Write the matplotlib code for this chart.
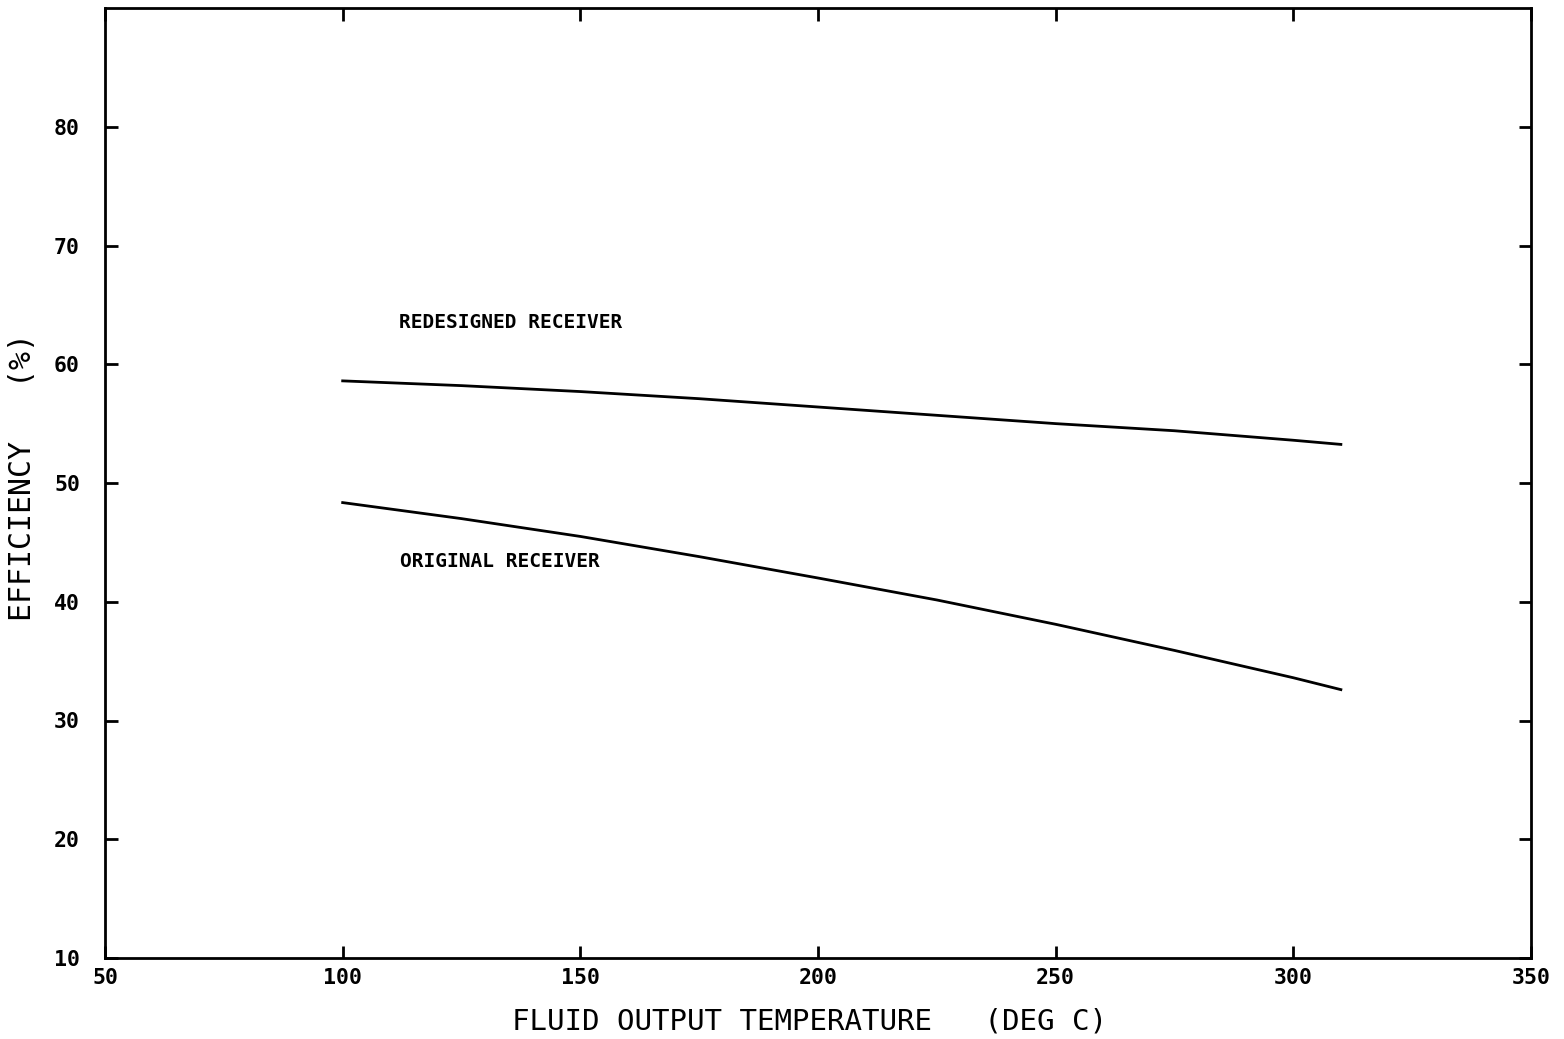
import matplotlib
matplotlib.use("Agg")
import matplotlib.pyplot as plt

# Data
temp_c = [100, 125, 150, 175, 200, 225, 250, 275, 300, 310]
redesigned_eff = [58.6, 58.2, 57.7, 57.1, 56.4, 55.7, 55.0, 54.4, 53.6, 53.25]
original_eff = [48.35, 47.0, 45.5, 43.8, 42.0, 40.15, 38.1, 35.9, 33.6, 32.6]

x_ticks = [50, 100, 150, 200, 250, 300, 350]
y_ticks = [10, 20, 30, 40, 50, 60, 70, 80]

label_redesigned = "REDESIGNED RECEIVER"
label_original = "ORIGINAL RECEIVER"
x_label = "FLUID OUTPUT TEMPERATURE   (DEG C)"
y_label = "EFFICIENCY   (%)"

fig = plt.figure(figsize=(15.64, 10.39), dpi=100)
ax = fig.add_axes([105 / 1564, 81 / 1039, 1426 / 1564, 950 / 1039])

ax.plot(temp_c, redesigned_eff, color="black", lw=2.0)
ax.plot(temp_c, original_eff, color="black", lw=2.0)

ax.set_xlim(50, 350)
ax.set_ylim(10, 90)
ax.set_xticks(x_ticks)
ax.set_yticks(y_ticks)
ax.set_xticklabels([str(v) for v in x_ticks])
ax.set_yticklabels([str(v) for v in y_ticks])

for s in ax.spines.values():
    s.set_linewidth(2.0)
    s.set_color("black")

ax.tick_params(axis="both", which="major", direction="in", length=9, width=2,
               top=True, right=True, labelsize=15.5)
ax.tick_params(axis="y", pad=18)
ax.tick_params(axis="x", pad=7)
for lbl in ax.get_xticklabels() + ax.get_yticklabels():
    lbl.set_fontfamily("DejaVu Sans Mono")
    lbl.set_fontweight("bold")

ax.text(111.9, 63.5, label_redesigned, fontsize=14, fontweight="bold",
        family="DejaVu Sans Mono", ha="left", va="center")
ax.text(112.1, 43.4, label_original, fontsize=14, fontweight="bold",
        family="DejaVu Sans Mono", ha="left", va="center")

ax.set_xlabel(x_label, fontsize=21, family="DejaVu Sans Mono", va="center")
ax.xaxis.set_label_coords(0.494, -0.067)
ax.set_ylabel(y_label, fontsize=21.5, family="DejaVu Sans Mono", va="center")
ax.yaxis.set_label_coords(-0.058, 0.506)

fig.savefig("out.png", dpi=100, facecolor="white")
